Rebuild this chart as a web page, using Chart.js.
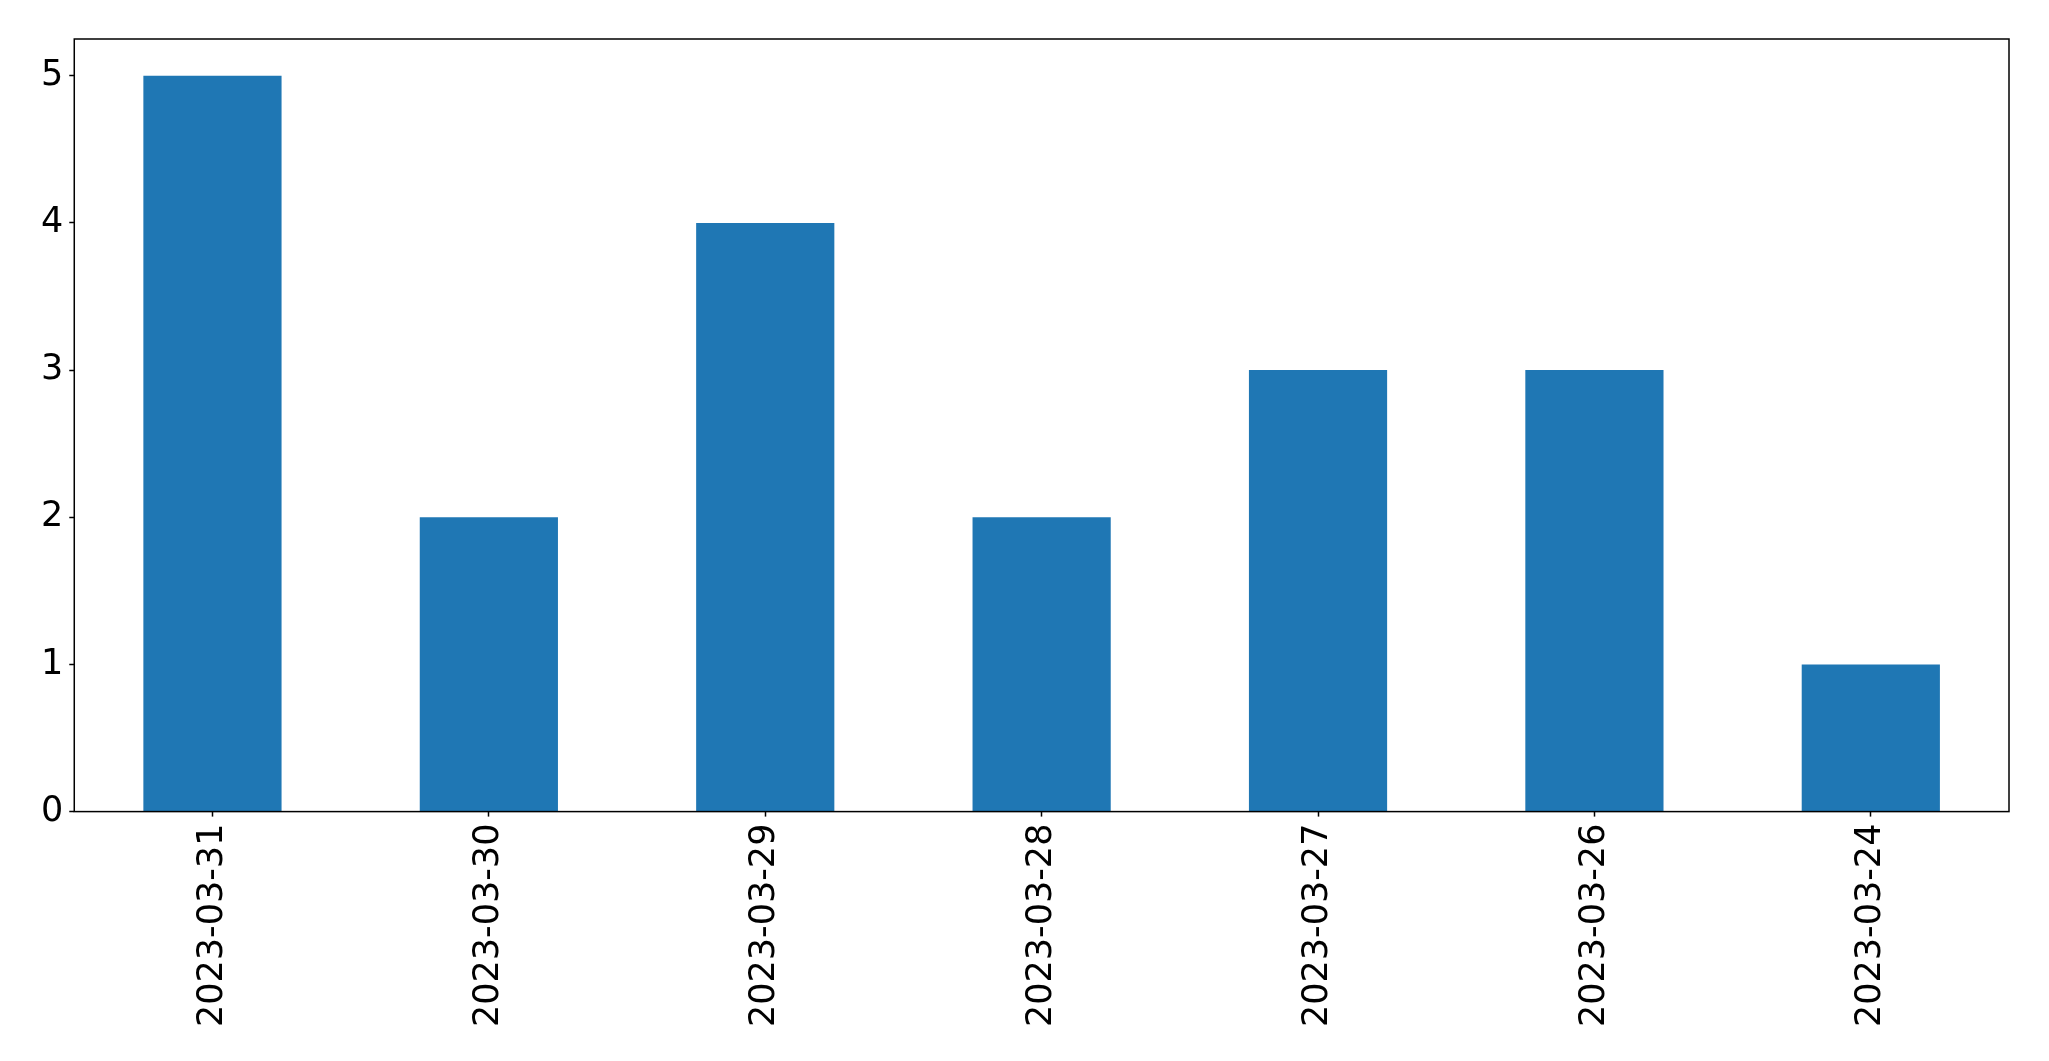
<!DOCTYPE html>
<html>
<head>
<meta charset="utf-8">
<script src="https://cdn.jsdelivr.net/npm/chart.js@4"></script>
<style>
  html, body { margin: 0; padding: 0; background: #fff; }
  #wrap { width: 2049px; height: 1061px; }
</style>
</head>
<body>
<div id="wrap"><canvas id="countChart"></canvas></div>
<script>
// data
const dates = ['2023-03-31', '2023-03-30', '2023-03-29', '2023-03-28', '2023-03-27', '2023-03-26', '2023-03-24']
const counts = [5, 2, 4, 2, 3, 3, 1]
const yMax = 5.25

// draws the full box around the plot, like matplotlib's spines
const frame = {
  id: 'frame',
  afterDraw (chart) {
    const { ctx, chartArea: a } = chart
    ctx.save()
    ctx.strokeStyle = '#000'
    ctx.lineWidth = 1.5
    ctx.strokeRect(a.left, a.top, a.right - a.left, a.bottom - a.top)
    ctx.restore()
  }
}

const tickFont = { family: 'DejaVu Sans', size: 35 }

new Chart(document.querySelector('#countChart'), {
  type: 'bar',
  data: {
    labels: dates,
    datasets: [{
      data: counts,
      backgroundColor: '#1f77b4',
      borderWidth: 0,
      barPercentage: 0.5,
      categoryPercentage: 1
    }]
  },
  options: {
    responsive: true,
    maintainAspectRatio: false,
    animation: false,
    layout: { padding: { left: 35, top: 39, right: 40, bottom: 27 } },
    plugins: {
      legend: { display: false },
      tooltip: { enabled: false }
    },
    scales: {
      x: {
        grid: { offset: false, drawOnChartArea: false, drawTicks: true, tickLength: 5, tickColor: '#000', tickWidth: 1.5 },
        border: { display: false },
        ticks: { color: '#000', font: tickFont, minRotation: 90, maxRotation: 90, padding: 7, autoSkip: false }
      },
      y: {
        min: 0,
        max: yMax,
        grid: { drawOnChartArea: false, drawTicks: true, tickLength: 5, tickColor: '#000', tickWidth: 1.5 },
        border: { display: false },
        ticks: { color: '#000', font: tickFont, stepSize: 1, includeBounds: false, padding: 6 }
      }
    }
  },
  plugins: [frame]
})
</script>
</body>
</html>
